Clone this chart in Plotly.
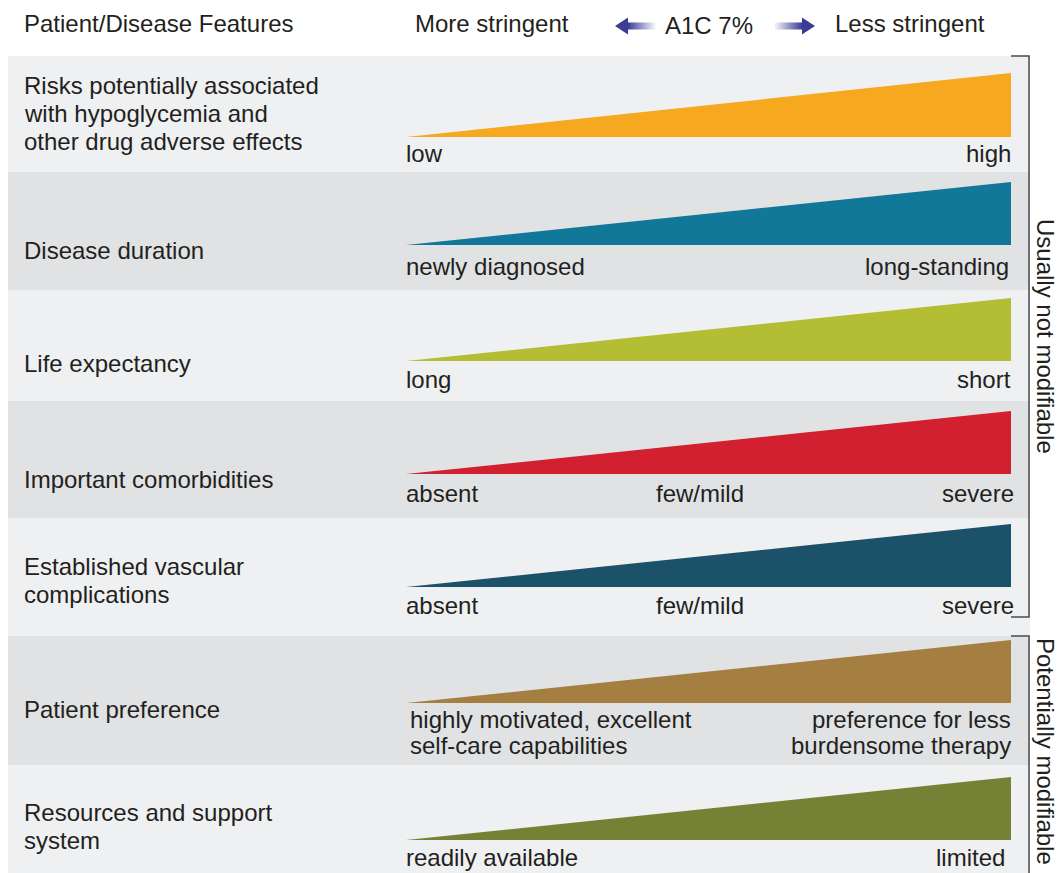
import plotly.graph_objects as go

# ---- content -------------------------------------------------------------
features = [
    ["Risks potentially associated", "with hypoglycemia and", "other drug adverse effects"],
    ["Disease duration"],
    ["Life expectancy"],
    ["Important comorbidities"],
    ["Established vascular", "complications"],
    ["Patient preference"],
    ["Resources and support", "system"],
]
low_labels = [
    ["low"],
    ["newly diagnosed"],
    ["long"],
    ["absent"],
    ["absent"],
    ["highly motivated, excellent", "self-care capabilities"],
    ["readily available"],
]
mid_labels = [[], [], [], ["few/mild"], ["few/mild"], [], []]
high_labels = [
    ["high"],
    ["long-standing"],
    ["short"],
    ["severe"],
    ["severe"],
    ["preference for less", "burdensome therapy"],
    ["limited"],
]
wedge_colors = ["#F6A91F", "#12789A", "#B4BE35", "#D32030", "#1B5169", "#A57F41", "#758235"]
groups = ["Usually not modifiable", "Potentially modifiable"]

# ---- geometry (pixel space) -----------------------------------------------
W, H = 1060, 873
band_top = [56, 172, 290, 401, 518, 636, 765]
band_bot = [172, 290, 401, 518, 636, 765, 873]
band_fill = ["#EFF0F2", "#E1E2E4"]
wedge_x0, wedge_x1 = 406, 1011
wedge_top = [73, 182, 298, 411, 524, 640, 777]
wedge_base = [137, 245, 361, 474, 587, 703, 840]
feature_y = [113, 250, 363, 479, 580, 709, 826]
scale_y = [153, 266, 379, 493, 605, 732, 857]
high_x = [1011, 1009, 1011, 1014, 1014, 1011, 1005]
line_gap = 28
FONT = "Liberation Sans, Arial, sans-serif"
FS = 24
INK = "#231F20"

fig = go.Figure()
shapes = []
annotations = []


def add_lines(lines, x, yc, xanchor, gap=line_gap, size=FS):
    n = len(lines)
    for k, t in enumerate(lines):
        y = yc + (k - (n - 1) / 2) * gap
        annotations.append(dict(
            x=x, y=y, text=t, showarrow=False, xanchor=xanchor, yanchor="middle",
            borderpad=0, borderwidth=0,
            font=dict(family=FONT, size=size, color=INK)))


for i in range(len(features)):
    # row band
    shapes.append(dict(type="rect", x0=8, x1=1030, y0=band_top[i], y1=band_bot[i],
                       fillcolor=band_fill[i % 2], line=dict(width=0), layer="below"))
    # wedge
    fig.add_trace(go.Scatter(
        x=[wedge_x0, wedge_x1, wedge_x1, wedge_x0],
        y=[wedge_base[i], wedge_top[i], wedge_base[i], wedge_base[i]],
        mode="lines", fill="toself", fillcolor=wedge_colors[i],
        line=dict(width=0, color=wedge_colors[i]), hoverinfo="skip", showlegend=False))
    add_lines(features[i], 24, feature_y[i], "left")
    gap = 26 if len(low_labels[i]) > 1 else line_gap
    lx = 410 if len(low_labels[i]) > 1 else wedge_x0
    add_lines(low_labels[i], lx, scale_y[i], "left", gap)
    if mid_labels[i]:
        add_lines(mid_labels[i], 700, scale_y[i], "center")
    add_lines(high_labels[i], high_x[i], scale_y[i], "right", gap)

# header
add_lines(["Patient/Disease Features"], 24, 23, "left")
add_lines(["More stringent"], 415, 23, "left")
add_lines(["A1C 7%"], 709, 25, "center")
add_lines(["Less stringent"], 835, 23, "left")

# gradient arrows around the A1C label
dark = (60, 60, 151)
light = (238, 238, 246)


def mix(t):
    return "rgb(%d,%d,%d)" % tuple(round(dark[j] + (light[j] - dark[j]) * t) for j in range(3))


steps = 14
for s in range(steps):
    t = s / (steps - 1)
    # left arrow shaft: dark near the head, fading right
    a0 = 627 + s * 2
    shapes.append(dict(type="rect", x0=a0, x1=a0 + 2.2, y0=22.5, y1=29.5,
                       fillcolor=mix(t), line=dict(width=0)))
    # right arrow shaft: light at the tail, dark near the head
    b0 = 775 + s * 2
    shapes.append(dict(type="rect", x0=b0, x1=b0 + 2.2, y0=22.5, y1=29.5,
                       fillcolor=mix(1 - t), line=dict(width=0)))
shapes.append(dict(type="path", path="M 615,26 L 628,17.5 L 628,34.5 Z",
                   fillcolor=mix(0), line=dict(width=0)))
shapes.append(dict(type="path", path="M 815,26 L 802,17.5 L 802,34.5 Z",
                   fillcolor=mix(0), line=dict(width=0)))

# group brackets
bracket_col = "#4A4A4C"
shapes.append(dict(type="path", path="M 1011,56 L 1029,56 L 1029,617 L 1011,617",
                   line=dict(color=bracket_col, width=1.5)))
shapes.append(dict(type="path", path="M 1011,636 L 1029,636 L 1029,880",
                   line=dict(color=bracket_col, width=1.5)))
for label, yc in zip(groups, [336, 751]):
    annotations.append(dict(x=1046, y=yc, text=label, showarrow=False, textangle=90,
                            xanchor="center", yanchor="middle", borderpad=0,
                            font=dict(family=FONT, size=FS, color=INK)))

fig.update_layout(
    width=W, height=H, margin=dict(l=0, r=0, t=0, b=0),
    paper_bgcolor="white", plot_bgcolor="white",
    xaxis=dict(range=[0, W], visible=False, fixedrange=True),
    yaxis=dict(range=[H, 0], visible=False, fixedrange=True),
    shapes=shapes, annotations=annotations, showlegend=False,
)
fig.write_html("out.html", config={"displayModeBar": False})
